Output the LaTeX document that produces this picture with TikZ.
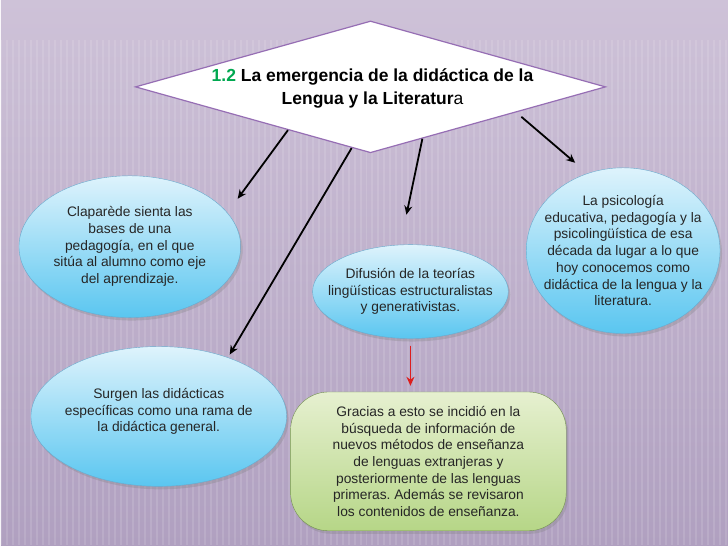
\documentclass[tikz,border=0pt]{standalone}
\usepackage{fontspec}
\setmainfont{Liberation Sans}
\usepackage{xcolor}
\usetikzlibrary{arrows.meta,shapes.geometric,shadows,calc}
\frenchspacing

\definecolor{fondo}{RGB}{206,194,216}
\definecolor{fondoos}{RGB}{176,160,192}
\definecolor{lila}{RGB}{150,110,180}
\definecolor{cielo}{RGB}{90,198,240}
\definecolor{cieloclaro}{RGB}{222,243,252}
\definecolor{bordeazul}{RGB}{105,170,205}
\definecolor{verdeclaro}{RGB}{230,240,208}
\definecolor{verde}{RGB}{182,214,135}
\definecolor{bordeverde}{RGB}{115,145,80}
\definecolor{numverde}{RGB}{0,168,80}
\definecolor{rojo}{RGB}{220,30,30}

\begin{document}
\begin{tikzpicture}[x=1pt, y=-1pt,
    globo/.style={ellipse, draw=bordeazul, top color=cieloclaro, bottom color=cielo,
        drop shadow={opacity=0.3, shadow xshift=2pt, shadow yshift=-3pt}, inner sep=0pt},
    texto/.style={align=center, text=black!85, font=\fontsize{13.8}{16.7}\selectfont},
    flecha/.style={-{Stealth[length=9pt,width=8pt]}, line width=1.8pt}]
    % fondo
    \shade[top color=fondo, bottom color=fondoos] (0,0) rectangle (728,546);
    \foreach \x in {0,6,...,728}
        \draw[white, opacity=0.12, line width=2pt] (\x,40) -- (\x,546);
    % tema central
    \node[diamond, draw=lila, line width=1.2pt, fill=white, minimum width=471pt,
        minimum height=132pt, inner sep=0pt] (tema) at (370,87) {};
    \node[align=center, font=\fontsize{17.5}{23}\selectfont\bfseries] (titulo) at (372,89)
        {\textcolor{numverde}{1.2} La emergencia de la did\'actica de la\\
         Lengua y la Literatur{\mdseries a}};
    % globos
    \node[globo, minimum width=222pt, minimum height=142pt] (clap) at (129,247) {};
    \node[texto] (claptxt) at (clap.center) {Clapar\`ede sienta las\\ bases de una\\
        pedagog\'ia, en el que\\ sit\'ua al alumno como eje\\ del aprendizaje.};
    \node[globo, minimum width=196pt, minimum height=94pt] (difu) at (410,292) {};
    \node[texto] (difutxt) at (difu.center) {Difusi\'on de la teor\'ias\\
        ling\"u\'isticas estructuralistas\\ y generativistas.};
    \node[globo, minimum width=194pt, minimum height=166pt] (psico) at (623,251) {};
    \node[texto] (psicotxt) at (psico.center) {La psicolog\'ia\\ educativa, pedagog\'ia y la\\
        psicoling\"u\'istica de esa\\ d\'ecada da lugar a lo que\\ hoy conocemos como\\
        did\'actica de la lengua y la\\ literatura.};
    \node[globo, minimum width=256pt, minimum height=140pt] (surgen) at (158,417) {};
    \node[texto] (surgentxt) at (158,412) {Surgen las did\'acticas\\
        espec\'ificas como una rama de\\ la did\'actica general.};
    \node[draw=bordeverde, top color=verdeclaro, bottom color=verde, rounded corners=38pt,
        minimum width=276pt, minimum height=139pt, inner sep=0pt,
        drop shadow={opacity=0.3, shadow xshift=2pt, shadow yshift=-3pt}] (gracias) at (428,462) {};
    \node[texto] (graciastxt) at (gracias.center) {Gracias a esto se incidi\'o en la\\
        b\'usqueda de informaci\'on de\\ nuevos m\'etodos de ense\~nanza\\
        de lenguas extranjeras y\\ posteriormente de las lenguas\\
        primeras. Adem\'as se revisaron\\ los contenidos de ense\~nanza.};
    % puntas de flecha
    \coordinate (p1) at (237,199);
    \coordinate (p2) at (229,355);
    \coordinate (p3) at (406,215);
    \coordinate (p4) at (575,163);
    \draw[flecha] ($(tema.south)!0.35!(tema.west)$) -- (p1);
    \draw[flecha] ($(tema.south)!0.08!(tema.west)$) -- (p2);
    \draw[flecha] ($(tema.south)!0.22!(tema.east)$) -- (p3);
    \draw[flecha] ($(tema.south)!0.64!(tema.east)+(0,6)$) -- (p4);
    \draw[flecha, draw=rojo, fill=rojo] ($(difu.south)+(0,7)$) -- ($(difu.south |- gracias.north)+(0,-6)$);
\end{tikzpicture}
\end{document}
